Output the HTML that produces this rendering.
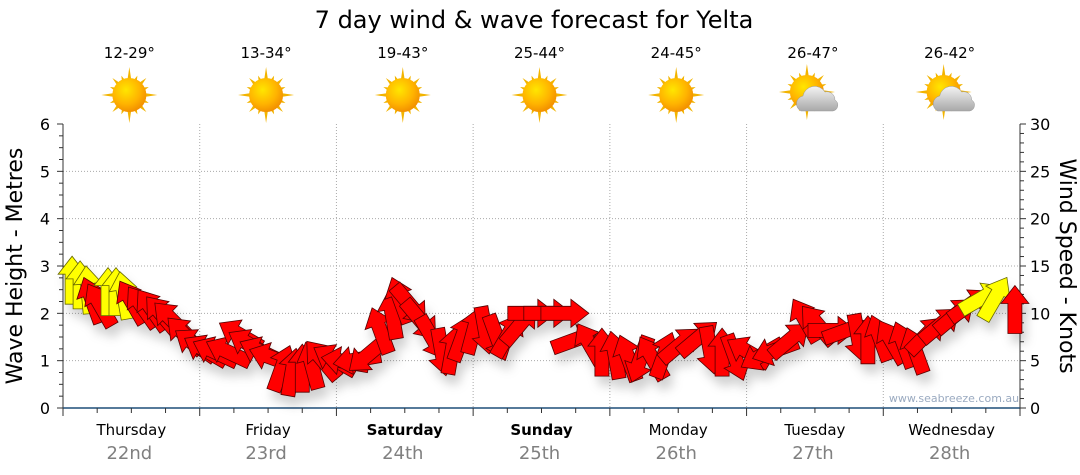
<!DOCTYPE html>
<html><head><meta charset="utf-8"><style>
body{margin:0;background:#fff;}
svg{display:block;font-family:"DejaVu Sans","Liberation Sans",sans-serif;}
</style></head><body>
<svg id="chart" width="1080" height="475" viewBox="0 0 1080 475">
<defs>
<radialGradient id="sunG" cx="0.4" cy="0.35" r="0.7"><stop offset="0" stop-color="#ffe600"/><stop offset="0.6" stop-color="#ffb300"/><stop offset="1" stop-color="#f08a00"/></radialGradient>
<linearGradient id="cloudG" x1="0" y1="0" x2="0" y2="1"><stop offset="0" stop-color="#f4f4f4"/><stop offset="1" stop-color="#a8a8a8"/></linearGradient>
<filter id="shadow" x="-50%" y="-50%" width="200%" height="200%"><feDropShadow dx="4" dy="9" stdDeviation="5" flood-color="#000" flood-opacity="0.18"/></filter>
</defs>
<text x="534" y="28" text-anchor="middle" font-size="24" fill="#000">7 day wind &amp; wave forecast for Yelta</text>
<g id="grid"></g>
<g id="axes"></g>
<g id="days"></g>
<text x="954" y="402" text-anchor="middle" font-size="11" fill="#9aaac0">www.seabreeze.com.au</text>
<g id="arrows" filter="url(#shadow)"></g>
<text transform="translate(22,266) rotate(-90)" text-anchor="middle" font-size="22" fill="#000">Wave Height - Metres</text>
<text transform="translate(1060,266) rotate(90)" text-anchor="middle" font-size="22" fill="#000">Wind Speed - Knots</text>
</svg>
<script>
const dayNames=["Thursday","Friday","Saturday","Sunday","Monday","Tuesday","Wednesday"];
const dayDates=["22nd","23rd","24th","25th","26th","27th","28th"];
const dayBold=[false,false,true,true,false,false,false];
const temps=["12-29°","13-34°","19-43°","25-44°","24-45°","26-47°","26-42°"];
const cloudy=[false,false,false,false,false,true,true];
const waveTicks=[0,1,2,3,4,5,6];
const windTicks=[0,5,10,15,20,25,30];
const hours=[1.6,3.0,4.4,5.1,6.5,7.9,9.3,10.7,12.1,13.9,15.6,17.4,19.1,21.4,23.2,25.0,26.7,29.0,31.1,32.8,34.9,36.7,38.4,40.2,42.0,43.7,45.5,47.7,49.5,51.6,53.5,55.7,57.8,59.2,60.9,62.7,64.8,66.5,68.3,70.0,72.1,74.1,76.2,78.1,80.2,82.3,85.1,88.1,89.9,92.5,94.6,96.9,99.2,101.3,103.4,105.5,108.3,111.5,113.6,115.7,118.0,120.3,122.7,125.0,127.6,130.3,132.5,135.0,137.5,139.6,141.3,143.4,145.5,147.6,149.6,151.5,154.0,156.6,159.2,161.3,163.6,167.1];
const knots=[13.5,13.0,12.5,11.4,10.9,12.3,12.3,11.9,11.2,10.7,10.4,9.8,9.3,7.7,6.7,6.1,5.9,5.9,7.7,6.7,5.9,5.3,4.2,3.8,4.2,4.5,5.1,5.1,4.9,5.1,5.6,8.2,9.8,11.4,10.9,9.3,7.4,5.9,6.1,7.4,8.2,8.2,7.4,7.7,8.8,10.0,10.0,10.0,7.2,6.7,5.9,5.6,5.3,5.1,5.3,5.6,6.7,7.4,6.1,5.9,5.3,5.9,5.6,6.1,7.2,9.3,8.8,8.2,8.2,7.4,7.2,7.4,7.0,6.7,6.1,7.7,8.8,9.8,10.9,11.6,11.6,10.4];
const dirs=[0,0,-5,-20,-30,0,0,-10,-30,-35,-35,-40,-45,-45,-55,-60,-65,-65,-60,-60,-65,-70,20,10,0,-15,-40,-60,-80,-100,-130,-20,-10,-20,140,140,150,170,10,20,15,170,160,30,40,90,90,90,70,-30,0,-10,-20,-160,-30,20,50,50,170,0,160,-60,-120,-110,50,-30,-40,90,70,170,0,-20,-30,-20,-20,45,50,50,55,60,30,0];
const colors=["Y","Y","Y","R","R","Y","Y","Y","R","R","R","R","R","R","R","R","R","R","R","R","R","R","R","R","R","R","R","R","R","R","R","R","R","R","R","R","R","R","R","R","R","R","R","R","R","R","R","R","R","R","R","R","R","R","R","R","R","R","R","R","R","R","R","R","R","R","R","R","R","R","R","R","R","R","R","R","R","R","R","Y","Y","R"];

const NS="http://www.w3.org/2000/svg";
const X0=63,X1=1020,Y0=408,Y1=124;
const dayW=(X1-X0)/7;
function xAt(h){return X0+h*dayW/24;}
function yWave(m){return Y0-(m/6)*(Y0-Y1);}
function yWind(k){return Y0-(k/30)*(Y0-Y1);}
function mk(tag,attrs,parent){const e=document.createElementNS(NS,tag);for(const k in attrs)e.setAttribute(k,attrs[k]);parent.appendChild(e);return e;}
const grid=document.getElementById('grid'),axes=document.getElementById('axes'),days=document.getElementById('days'),arrows=document.getElementById('arrows');

waveTicks.forEach(v=>{
  const y=yWave(v);
  if(v>0&&v<6){const g=mk('line',{x1:X0,x2:X1,y1:y,y2:y,stroke:'#aaa','stroke-dasharray':'1,2'},grid);
  
  }
  const t=mk('text',{x:50,y:y+6,'text-anchor':'end','font-size':16,fill:'#000'},axes);t.textContent=v;
  
  
});
for(let i=0;i<=24;i++){const y=yWave(i/4);mk('line',{x1:X0-(i%4==0?6:4),x2:X0,y1:y,y2:y,stroke:'#333'},axes);}
windTicks.forEach(v=>{
  const y=yWind(v);
  const t=mk('text',{x:1030,y:y+6,'font-size':16,fill:'#000'},axes);t.textContent=v;
  
  
});
for(let i=0;i<=30;i++){const y=yWind(i);mk('line',{x1:X1,x2:X1+(i%5==0?6:4),y1:y,y2:y,stroke:'#333'},axes);}
mk('line',{x1:X0,x2:X0,y1:Y1,y2:Y0,stroke:'#333'},axes);
mk('line',{x1:X1,x2:X1,y1:Y1,y2:Y0,stroke:'#333'},axes);
mk('line',{x1:X0,x2:X1,y1:Y0,y2:Y0,stroke:'#1f4e79','stroke-width':1.5},axes);
for(let i=0;i<=28;i++){const x=X0+i*dayW/4;mk('line',{x1:x,x2:x,y1:Y0,y2:Y0+(i%4==0?8:5),stroke:'#333'},axes);}

dayNames.forEach((n,i)=>{
  const cx=X0+dayW*(i+0.5);
  if(i>0){const g=mk('line',{x1:X0+dayW*i,x2:X0+dayW*i,y1:Y1,y2:Y0,stroke:'#aaa','stroke-dasharray':'1,2'},grid);
  
  }
  const t=mk('text',{x:cx,y:435,'text-anchor':'middle','font-size':15,fill:'#000','font-weight':dayBold[i]?'bold':'normal'},days);t.textContent=n;
  
  
  const d=mk('text',{x:cx-2,y:459,'text-anchor':'middle','font-size':18,fill:'#808080'},days);d.textContent=dayDates[i];
  
  
  const tt=mk('text',{x:cx-2,y:58,'text-anchor':'middle','font-size':15,fill:'#000'},days);tt.textContent=temps[i];
  
  
  const ic=mk('g',{transform:`translate(${cx-2},95)`},days);
  
  
  const sx=cloudy[i]?-6:0,sy=cloudy[i]?-3:0;
  for(let a=0;a<16;a++){const L=a%4==0?28:(a%2==0?24:21);const ang=a*Math.PI/8;
    mk('polygon',{points:`${sx+Math.cos(ang+0.15)*14},${sy+Math.sin(ang+0.15)*14} ${sx+Math.cos(ang)*L},${sy+Math.sin(ang)*L} ${sx+Math.cos(ang-0.15)*14},${sy+Math.sin(ang-0.15)*14}`,fill:'#f2b400'},ic);}
  mk('circle',{cx:sx,cy:sy,r:17,fill:'url(#sunG)'},ic);
  if(cloudy[i]){
    mk('path',{d:'M-12,16 a8,8 0 0 1 2,-15 a12,12 0 0 1 22,-4 a8,8 0 0 1 10,8 a6,6 0 0 1 -2,11 z',fill:'url(#cloudG)',stroke:'#999','stroke-width':0.5},ic);
  }
});

hours.forEach((h,i)=>{
  const x=xAt(h),y=yWind(knots[i]);
  const fill=colors[i]==='Y'?'#ffff00':'#ff0000';
  const stroke=colors[i]==='Y'?'#666600':'#550000';
  const p=mk('polygon',{points:'-7,24 7,24 7,-6 14,-6 0,-24 -14,-6 -7,-6',fill:fill,stroke:stroke,'stroke-width':0.8,transform:`translate(${x.toFixed(1)},${y.toFixed(1)}) rotate(${dirs[i]})`},arrows);
  
  
});
</script>
</body></html>
